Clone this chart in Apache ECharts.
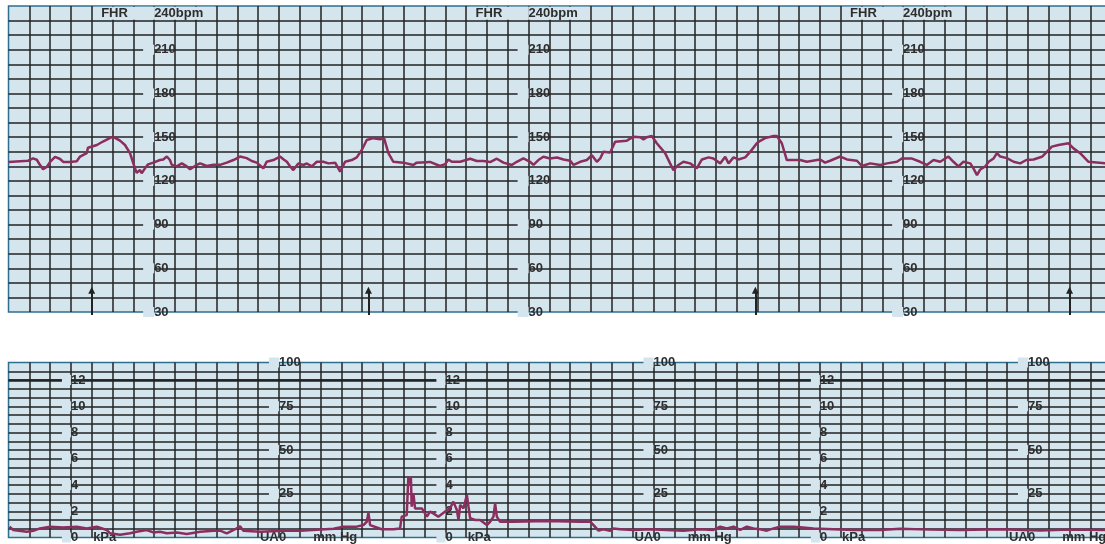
<!DOCTYPE html>
<html><head><meta charset="utf-8">
<script src="https://cdn.jsdelivr.net/npm/echarts@6/dist/echarts.min.js"></script>
<style>html,body{margin:0;padding:0;background:#fff}#c{width:1105px;height:544px}</style>
</head><body><div id="c"></div><script>
// ---------------- data ----------------
const T_MAX = 528; // seconds shown, 10 s per grid column
const fhrTime = [0,9.4,11.8,13.6,15.1,16.6,18.4,20.0,22.4,24.8,26.3,29.6,32.8,34.4,37.6,38.2,42.5,45.4,49.6,51.2,53.6,56.0,58.4,60.0,61.6,63.2,64.0,65.6,67.1,69.6,72.8,74.4,76.1,77.6,78.5,80.9,83.3,85.7,87.3,90.5,92.1,95.3,98.5,101.7,104.9,108.1,111.3,114.5,116.9,119.3,122.5,124.1,127.3,130.5,132.1,133.8,135.3,136.9,139.3,141.7,143.4,145.8,148.2,151.3,153.8,157.0,159.4,161.8,165.0,167.4,169.8,172.2,175.4,178.6,180.5,182.6,185.0,189.8,194.6,196.2,202.6,207.4,209.9,211.4,213.1,217.1,221.9,225.1,228.3,231.5,234.7,237.9,241.9,244.3,247.5,250.7,252.3,254.7,257.1,260.3,263.6,266.8,270.0,271.6,274.8,278.0,280.4,282.8,284.4,285.9,289.2,291.6,297.2,300.4,303.6,305.2,306.8,309.2,311.6,315.6,318.0,319.6,322.0,324.4,327.6,330.8,333.3,336.5,338.8,342.1,344.5,346.1,348.5,350.9,354.1,356.5,359.7,361.3,363.7,367.7,369.3,371.7,374.1,380.5,383.7,390.1,392.5,394.9,399.8,403.0,407.8,410.2,414.2,419.0,422.2,427.0,429.4,434.0,438.2,441.4,444.6,447.8,451.8,454.2,456.6,459.0,462.3,463.8,465.5,467.1,469.5,471.1,473.5,475.1,476.7,479.9,483.1,486.3,489.2,492.7,496.7,499.1,501.5,504.7,509.5,511.9,515.1,519.1,528];
const fhrBpm = [133,133.8,135.4,134.5,131,128,129.5,133,136.4,135,133,133,133.5,136.7,139,142.7,144.6,147,150,149.5,147.6,144.6,139,132,125.5,127.4,125.2,128.6,131.3,132.5,134.3,134.7,136.7,134.3,131,129.9,132,129.9,128,131,132,130.2,131,131,132.5,134.3,136.7,135.6,133.6,132.5,128.6,133.1,134.3,136.7,134.9,133.1,130,127.4,131.9,130.9,131.9,129.9,133.1,133.1,132,132.5,126.3,133.1,134.3,136.1,141.2,148,149.3,148.5,149.3,139,133.1,132.5,130.9,132.5,133,130.2,131.5,134.7,133.1,133.1,135.2,133.6,133.6,132.9,135.2,132.5,130.9,133.1,135.4,133.1,130.9,134.3,136.5,135.4,136,134.7,133.8,130.9,133.1,134.3,137.6,133.1,135.4,139.9,139.4,146.9,147.6,150.3,149.9,148.5,149.9,150.8,145.8,139,132,127.4,130.9,133.1,132,128.6,134.7,136.1,135.4,132,136.5,132,136.1,134.7,136.1,139.9,145.8,147.5,149.3,150.8,150.8,145.8,134.3,134.3,133.1,134.7,132.5,133.8,136.7,134.7,133.8,130.2,132,130.9,132,133.1,135.4,135.4,133.1,130.9,134.3,133.1,136.7,133.1,129.9,133.1,132,128.6,123.9,127.8,129.9,133.1,135.4,139,136.7,135.6,133.1,132,134.3,134.7,136.5,139.9,143.5,144.6,145.8,142.3,139,133.1,132];
const uaTime = [0.5,2.3,8.8,11.9,15.1,20.0,26.3,32.8,37.6,42.4,47.2,48.8,53.6,58.4,61.6,66.4,69.6,72.8,76.1,80.9,85.7,92.1,98.5,101.7,104.9,109.7,111.3,112.9,120.9,132.1,140.1,148.2,156.2,161.0,167.4,170.6,172.2,173.0,173.8,179.4,185.0,188.2,189.0,191.4,192.2,193.0,193.4,193.8,194.6,195.4,196.3,198.7,201.1,202.6,204.2,206.6,209.9,212.3,213.8,215.5,216.3,217.1,218.7,220.3,221.1,221.9,224.3,226.7,229.9,231.5,233.1,233.9,234.7,236.3,242.7,258.7,274.8,279.6,281.2,283.6,285.9,289.2,290.8,293.9,300.4,308.4,316.4,324.4,332.5,338.8,342.1,345.3,348.5,351.7,354.9,358.1,361.3,364.5,367.7,370.9,377.3,380.5,386.9,396.5,406.2,419.0,428.6,443.0,457.5,476.7,495.9,510.3,528];
const uaMmHg = [6.2,4.3,3.3,3.8,5.2,6.2,5.7,6.2,5.2,6.2,4.3,2.4,1.6,2.4,3.3,4.3,2.9,3.3,2.4,2.9,2.0,3.3,3.8,3.9,2.4,5.2,6.4,3.9,3.3,3.8,3.9,4.4,5.0,6.2,6.2,7.1,9.0,14.2,7.1,4.7,4.7,5.2,11.9,12.8,34.7,30.9,34.7,17.6,25.3,16.6,15.7,16.6,11.9,14.8,13.8,11.9,14.8,16.7,20.5,15.7,10.0,18.6,16.7,24.3,17.6,11.0,10.0,10.0,7.1,9.0,11.9,19.5,11.9,9.0,9.0,9.4,9.0,9.0,7.1,3.9,4.7,3.8,5.2,4.7,4.3,4.7,4.3,3.9,4.7,4.3,6.2,5.2,6.2,4.3,6.2,5.2,4.7,3.9,5.2,6.2,6.2,5.9,5.2,4.7,4.3,4.3,5.0,4.5,4.3,4.7,4.0,4.5,4.3];
const eventTimes = [40, 173, 359, 510];
const eventSpan = [28, 45];           // bpm extent of the event arrows
const fhrTicks = [30, 60, 90, 120, 150, 180, 210];
const fhrTitle = ['FHR', '240bpm'];
const kPaTicks = [0, 2, 4, 6, 8, 10, 12];
const mmHgTicks = [0, 25, 50, 75, 100];
const uaTitle = 'UA';
const kPaUnit = 'kPa';
const mmHgUnit = 'mm Hg';
const fhrLabelTimes = [70, 250, 430];
const kPaLabelTimes = [30, 210, 390];
const mmHgLabelTimes = [130, 310, 490];
const FHR_MIN = 30, FHR_MAX = 240, FHR_TITLE_AT = 235, FHR_BOLD = 220;
const UA_MIN = 0, UA_MAX = 100, UA_BOLD = 90;
const KPA_PER_MMHG = 0.133322;

// ---------------- style / layout ----------------
const BG = '#d5e5ee', GRID_C = '#222', BORDER_C = '#2c6f8f', TRACE_C = '#8b2d5e', TEXT_C = '#2e2e2e';
const GRID_LEFT = 8.5, GRID_RIGHT = -2, W = 1105;
const pxPerS = (W - GRID_LEFT - GRID_RIGHT) / T_MAX;
const font = { color: TEXT_C, fontFamily: '"Liberation Sans", Arial, sans-serif', fontWeight: 'bold', fontSize: 13 };

function mainAxis(grid, min, max, interval, width) {
  return { type: 'value', gridIndex: grid, min, max, interval,
    axisLine: { show: false }, axisTick: { show: false }, axisLabel: { show: false },
    splitLine: { show: true, showMinLine: false, showMaxLine: false, lineStyle: { color: GRID_C, width } } };
}
function labelAxis(grid, t, min, max, values, margin, formatter, rich) {
  return { type: 'value', gridIndex: grid, min, max, position: 'left', offset: -t * pxPerS, z: 1,
    axisLine: { show: false }, axisTick: { show: false }, splitLine: { show: false },
    axisLabel: Object.assign({ show: true, inside: true, margin, customValues: values, hideOverlap: false,
      formatter, rich }, font) };
}
const gap = (w) => ({ width: w, height: 10, backgroundColor: BG });
const sp = (w) => ({ width: w });

const fhrRich = { s: sp(50), g: gap(11),
  fp: { width: 8, height: 13, backgroundColor: BG }, fa: { width: 53, height: 13, backgroundColor: BG },
  fb: { width: 61, height: 13, backgroundColor: BG } };
const fhrFmt = v => v === FHR_TITLE_AT ? `{fp| }{fa|${fhrTitle[0]}}{fb|${fhrTitle[1]}}` : `{s| }{g| }{t|${v}}`;
const kPaRich = { g: gap(9), sp: sp(15) };
const kPaFmt = v => v === 0 ? `{g| }{t|0}{sp| }{u|${kPaUnit}}` : `{g| }{t|${v}}`;
const mmRich = { s: sp(9), g: gap(10), a: { width: 19 }, sp: sp(27) };
const mmFmt = v => v === 0 ? `{a|${uaTitle}}{t|0}{sp| }{u|${mmHgUnit}}` : `{s| }{g| }{t|${v}}`;

const yAxes = [
  mainAxis(0, FHR_MIN, FHR_MAX, 10, 1.5),
  mainAxis(0, FHR_MIN, FHR_MAX, FHR_BOLD, 2.5),
  ...fhrLabelTimes.map(t => labelAxis(0, t, FHR_MIN, FHR_MAX, fhrTicks.concat([FHR_TITLE_AT]), -61, fhrFmt, fhrRich)),
  mainAxis(1, UA_MIN, UA_MAX, 5, 1.5),
  mainAxis(1, UA_MIN, UA_MAX, UA_BOLD, 2.5),
  ...kPaLabelTimes.map(t => labelAxis(1, t, UA_MIN * KPA_PER_MMHG, UA_MAX * KPA_PER_MMHG, kPaTicks, -9, kPaFmt, kPaRich)),
  ...mmHgLabelTimes.map(t => labelAxis(1, t, UA_MIN, UA_MAX, mmHgTicks, -19, mmFmt, mmRich))
];
const uaMainIdx = 2 + fhrLabelTimes.length;

const xAxisDef = g => ({ type: 'value', gridIndex: g, min: 0, max: T_MAX, interval: 10,
  axisLine: { show: false }, axisTick: { show: false }, axisLabel: { show: false },
  splitLine: { show: true, showMinLine: false, showMaxLine: false, lineStyle: { color: GRID_C, width: 1.5 } } });

const gridDef = (top, height) => ({ left: GRID_LEFT, right: GRID_RIGHT, top, height, containLabel: false,
  outerBoundsMode: 'none', show: true, backgroundColor: BG, borderColor: BORDER_C, borderWidth: 1.5 });

const chart = echarts.init(document.getElementById('c'), null, { renderer: 'canvas' });
chart.setOption({
  animation: false,
  backgroundColor: '#fff',
  grid: [gridDef(6, 306), gridDef(362.5, 175)],
  xAxis: [xAxisDef(0), xAxisDef(1)],
  yAxis: yAxes,
  series: [
    { type: 'line', xAxisIndex: 0, yAxisIndex: 0, data: fhrTime.map((t, i) => [t, fhrBpm[i]]),
      symbol: 'none', lineStyle: { color: TRACE_C, width: 2.5 }, z: 3, silent: true },
    { type: 'line', xAxisIndex: 1, yAxisIndex: uaMainIdx, data: uaTime.map((t, i) => [t, uaMmHg[i]]),
      symbol: 'none', lineStyle: { color: TRACE_C, width: 2.5 }, z: 3, silent: true },
    { type: 'lines', coordinateSystem: 'cartesian2d', xAxisIndex: 0, yAxisIndex: 0, clip: false,
      data: eventTimes.map(t => ({ coords: [[t, eventSpan[0]], [t, eventSpan[1]]] })),
      symbol: ['none', 'triangle'], symbolSize: 7, lineStyle: { color: '#222', width: 2, opacity: 1 }, z: 4, silent: true }
  ]
});
</script></body></html>
